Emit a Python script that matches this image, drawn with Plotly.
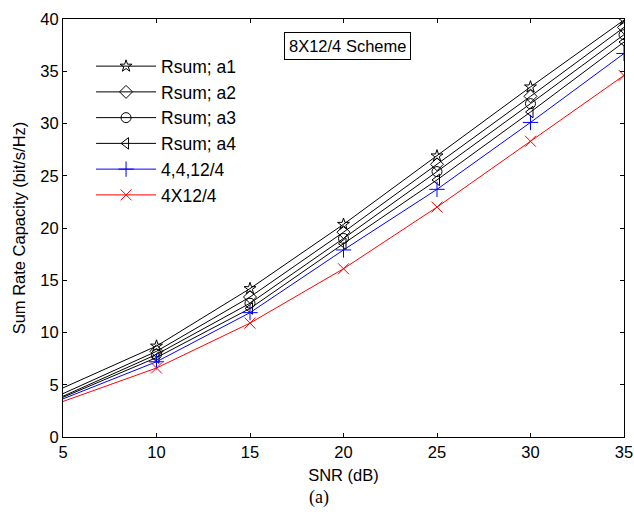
import plotly.graph_objects as go

snr = [5, 10, 15, 20, 25, 30, 35]
rsum_a1 = [4.7, 8.7, 14.2, 20.35, 26.9, 33.5, 39.9]
rsum_a2 = [4.15, 8.2, 13.4, 19.6, 26.1, 32.6, 39.2]
rsum_a3 = [3.9, 7.9, 12.8, 19.0, 25.4, 31.9, 38.5]
rsum_a4 = [3.8, 7.6, 12.3, 18.5, 24.6, 31.1, 37.8]
s_4412 = [3.65, 7.2, 11.9, 17.9, 23.7, 30.1, 36.7]
s_4x12 = [3.4, 6.6, 10.9, 16.1, 22.0, 28.3, 34.6]

names = ["Rsum; a1", "Rsum; a2", "Rsum; a3", "Rsum; a4", "4,4,12/4", "4X12/4"]
series = [rsum_a1, rsum_a2, rsum_a3, rsum_a4, s_4412, s_4x12]
colors = ["black", "black", "black", "black", "blue", "red"]
symbols = ["star-open", "diamond-open", "circle-open", "triangle-left-open",
           "cross-thin-open", "x-thin-open"]
sizes = [9, 10, 10, 10, 11, 11]

FONT = "Liberation Sans, Arial"

fig = go.Figure()
for nm, ys, c, sym, sz in zip(names, series, colors, symbols, sizes):
    # first segment (no marker at x=5)
    fig.add_trace(go.Scatter(x=snr[:2], y=ys[:2], mode="lines",
                             line=dict(color=c, width=1), showlegend=False,
                             hoverinfo="skip"))
    fig.add_trace(go.Scatter(x=snr[1:], y=ys[1:], mode="lines+markers", name=nm,
                             line=dict(color=c, width=1),
                             marker=dict(symbol=sym, size=sz, color=c,
                                         line=dict(color=c, width=1))))

axis_common = dict(showgrid=False, zeroline=False, showline=True, linecolor="black",
                   linewidth=1, mirror="ticks", ticks="inside", ticklen=4,
                   tickcolor="black", automargin=False,
                   tickfont=dict(family=FONT, size=16.5, color="black"))
fig.update_xaxes(range=[5, 35], tickvals=[5, 10, 15, 20, 25, 30, 35],
                 title=dict(text="SNR (dB)", standoff=9,
                            font=dict(family=FONT, size=16.5, color="black")),
                 **axis_common)
fig.update_yaxes(range=[0, 40], tickvals=list(range(0, 41, 5)),
                 title=dict(text="Sum Rate Capacity (bit/s/Hz)", standoff=10,
                            font=dict(family=FONT, size=16.5, color="black")),
                 **axis_common)

fig.add_annotation(xref="paper", yref="paper", x=0.508, y=0.935, xanchor="center",
                   yanchor="middle", text="8X12/4 Scheme", showarrow=False,
                   font=dict(family=FONT, size=16.5, color="black"),
                   bordercolor="black", borderwidth=1, borderpad=4, bgcolor="white")
fig.add_annotation(xref="paper", yref="paper", x=0.457, y=-0.145, xanchor="center",
                   yanchor="middle", text="(a)", showarrow=False,
                   font=dict(family="Liberation Serif, Times New Roman", size=18, color="black"))

fig.update_layout(
    width=634, height=512,
    margin=dict(l=63, r=10, t=19, b=75),
    paper_bgcolor="white", plot_bgcolor="white",
    legend=dict(x=0.05, y=0.93, xanchor="left", yanchor="top",
                bgcolor="rgba(0,0,0,0)", borderwidth=0,
                font=dict(family=FONT, size=17.5, color="black"),
                itemwidth=60, tracegroupgap=0),
)
fig.write_html("out.html")
